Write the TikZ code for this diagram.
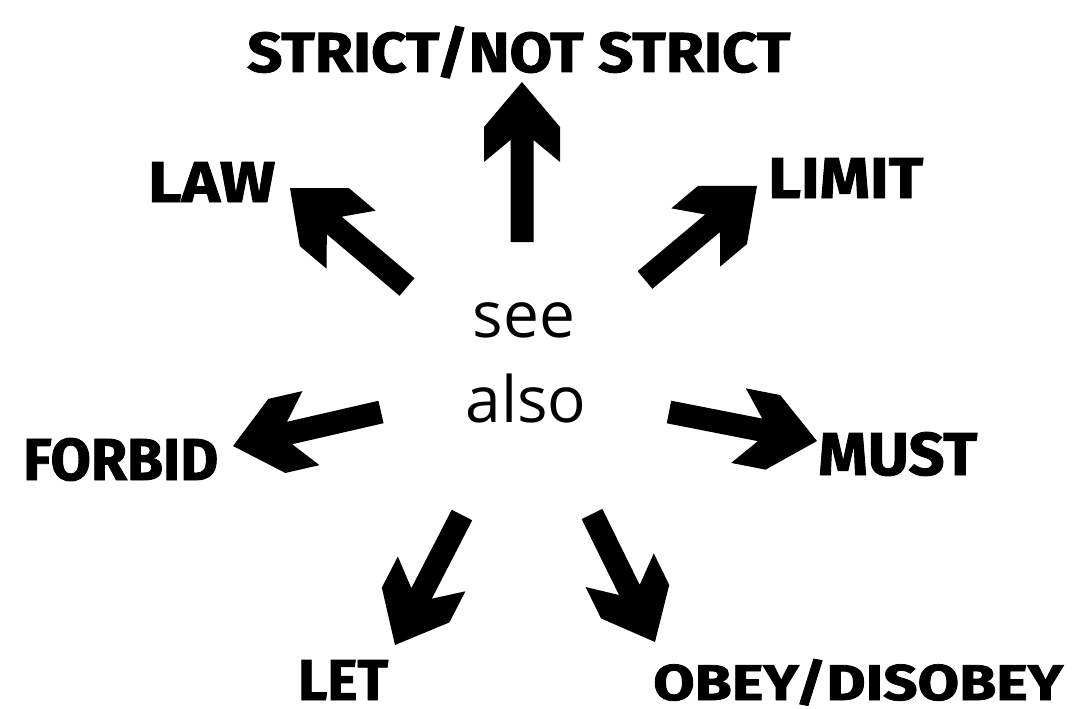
\documentclass[tikz,border=0pt]{standalone}
\usepackage{fontspec}
\usepackage{graphicx}
\setmainfont{Open Sans}
\newfontfamily\heavy{Fira Sans}[BoldFeatures={FakeBold=1.5}]
\usetikzlibrary{calc}
% fat arrow from tail #1 to tip #2
\newcommand\fatarrow[2]{%
  \fill let \p1=(#1), \p2=(#2), \n1={atan2(\y2-\y1,\x2-\x1)} in
   (\p2)
   -- ({\x2-45*cos(\n1)-38*sin(\n1)},{\y2-45*sin(\n1)+38*cos(\n1)})
   -- ({\x2-80*cos(\n1)-38*sin(\n1)},{\y2-80*sin(\n1)+38*cos(\n1)})
   -- ({\x2-58*cos(\n1)-11.5*sin(\n1)},{\y2-58*sin(\n1)+11.5*cos(\n1)})
   -- ({\x1-11.5*sin(\n1)},{\y1+11.5*cos(\n1)})
   -- ({\x1+11.5*sin(\n1)},{\y1-11.5*cos(\n1)})
   -- ({\x2-58*cos(\n1)+11.5*sin(\n1)},{\y2-58*sin(\n1)-11.5*cos(\n1)})
   -- ({\x2-80*cos(\n1)+38*sin(\n1)},{\y2-80*sin(\n1)-38*cos(\n1)})
   -- ({\x2-45*cos(\n1)+38*sin(\n1)},{\y2-45*sin(\n1)-38*cos(\n1)})
   -- cycle;}
\newcommand\lbltext[3]{\resizebox{#1pt}{#2pt}{\heavy\bfseries #3}}
\begin{document}
\begin{tikzpicture}[x=1pt,y=-1pt,
  lbl/.style={inner sep=0pt, anchor=base west},
  centertext/.style={inner sep=0pt, anchor=base, font=\fontsize{64}{64}\selectfont}]
\useasboundingbox (0,0) rectangle (1072,709);
% centre text
\node[centertext] (see) at (524,337) {see};
\node[centertext] (also) at (526,422) {also};
% labels
\node[lbl] (strict) at (247,72) {\lbltext{543}{46}{STRICT/NOT STRICT}};
\node[lbl] (law) at (148,202) {\lbltext{127}{40}{LAW}};
\node[lbl] (limit) at (768,198) {\lbltext{155}{40}{LIMIT}};
\node[lbl] (forbid) at (23,480) {\lbltext{195}{42}{FORBID}};
\node[lbl] (must) at (818,475) {\lbltext{159}{43}{MUST}};
\node[lbl] (let) at (298,700) {\lbltext{90}{40}{LET}};
\node[lbl] (obey) at (653,700) {\lbltext{410}{41}{OBEY/DISOBEY}};
% arrow ends
\coordinate (upT) at (522,242);   \coordinate (upH) at (522,82);
\coordinate (lawT) at (407,287);  \coordinate (lawH) at (290,188);
\coordinate (limT) at (645,280);  \coordinate (limH) at (757,186);
\coordinate (forT) at (381,412);  \coordinate (forH) at (233,446);
\coordinate (musT) at (669,412);  \coordinate (musH) at (817,441);
\coordinate (letT) at (462,515);  \coordinate (letH) at (395,645);
\coordinate (obeT) at (592,514);  \coordinate (obeH) at (655,642);
\fatarrow{upT}{upH}
\fatarrow{lawT}{lawH}
\fatarrow{limT}{limH}
\fatarrow{forT}{forH}
\fatarrow{musT}{musH}
\fatarrow{letT}{letH}
\fatarrow{obeT}{obeH}
\end{tikzpicture}
\end{document}
